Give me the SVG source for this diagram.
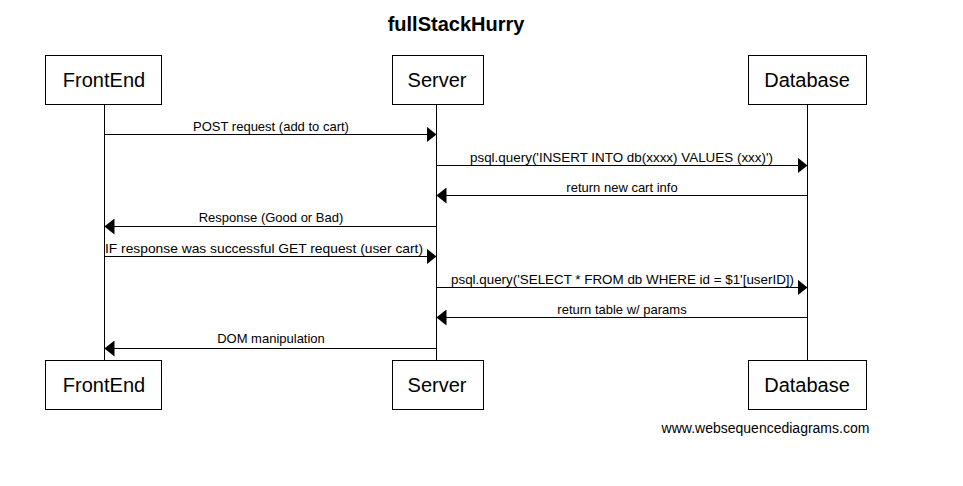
<svg xmlns="http://www.w3.org/2000/svg" width="963" height="486" viewBox="0 0 963 486">
<style>
.box{fill:#fff;stroke:#000;stroke-width:1}
.bt{font-family:"Liberation Sans",Arial,sans-serif;font-size:20px;text-anchor:middle;fill:#000}
.life{stroke:#000;stroke-width:1}
.msg{stroke:#000;stroke-width:1;fill:none}
.ml{font-family:"Liberation Sans",Arial,sans-serif;font-size:13px;text-anchor:middle;fill:#000}
</style>
<defs>
<marker id="ah" viewBox="0 0 10 16" refX="10" refY="8" markerWidth="10" markerHeight="16" markerUnits="userSpaceOnUse" orient="auto">
<path d="M0,0 L10,8 L0,16 Z" fill="#000"/>
</marker>
</defs>
<rect width="963" height="486" fill="#fff"/>
<text x="456" y="31" font-family="'Liberation Sans',Arial,sans-serif" font-size="20" font-weight="bold" text-anchor="middle">fullStackHurry</text>
<g id="lifelines">
<line class="life" x1="104.5" y1="104" x2="104.5" y2="360"/>
<line class="life" x1="436.5" y1="104" x2="436.5" y2="360"/>
<line class="life" x1="807.5" y1="104" x2="807.5" y2="360"/>
</g>
<g id="FrontEnd">
<rect class="box" x="45.5" y="55.5" width="116" height="49"/>
<text class="bt" x="104" y="87">FrontEnd</text>
</g>
<g id="Server">
<rect class="box" x="392.5" y="55.5" width="91" height="49"/>
<text class="bt" x="437" y="87">Server</text>
</g>
<g id="Database">
<rect class="box" x="748.5" y="55.5" width="118" height="49"/>
<text class="bt" x="807" y="87">Database</text>
</g>
<g id="FrontEnd_bottom">
<rect class="box" x="45.5" y="360.5" width="116" height="49"/>
<text class="bt" x="104" y="392">FrontEnd</text>
</g>
<g id="Server_bottom">
<rect class="box" x="392.5" y="360.5" width="91" height="49"/>
<text class="bt" x="437" y="392">Server</text>
</g>
<g id="Database_bottom">
<rect class="box" x="748.5" y="360.5" width="118" height="49"/>
<text class="bt" x="807" y="392">Database</text>
</g>
<g id="connectors">
<line class="msg" x1="104.5" y1="134.5" x2="436.5" y2="134.5" marker-end="url(#ah)"/>
<text class="ml" x="271" y="131">POST request (add to cart)</text>
<line class="msg" x1="436.5" y1="165.5" x2="807.5" y2="165.5" marker-end="url(#ah)"/>
<text class="ml" x="621.5" y="162" textLength="303" lengthAdjust="spacingAndGlyphs">psql.query('INSERT INTO db(xxxx) VALUES (xxx)')</text>
<line class="msg" x1="807.5" y1="195.5" x2="436.5" y2="195.5" marker-end="url(#ah)"/>
<text class="ml" x="622" y="192">return new cart info</text>
<line class="msg" x1="436.5" y1="226.5" x2="104.5" y2="226.5" marker-end="url(#ah)"/>
<text class="ml" x="271" y="222">Response (Good or Bad)</text>
<line class="msg" x1="104.5" y1="256.5" x2="436.5" y2="256.5" marker-end="url(#ah)"/>
<text class="ml" x="264" y="253" textLength="318" lengthAdjust="spacingAndGlyphs">IF response was successful GET request (user cart)</text>
<line class="msg" x1="436.5" y1="287.5" x2="807.5" y2="287.5" marker-end="url(#ah)"/>
<text class="ml" x="622.5" y="284" textLength="343" lengthAdjust="spacingAndGlyphs">psql.query('SELECT * FROM db WHERE id = $1'[userID])</text>
<line class="msg" x1="807.5" y1="317.5" x2="436.5" y2="317.5" marker-end="url(#ah)"/>
<text class="ml" x="622" y="314">return table w/ params</text>
<line class="msg" x1="436.5" y1="348.5" x2="104.5" y2="348.5" marker-end="url(#ah)"/>
<text class="ml" x="271" y="343">DOM manipulation</text>
</g>
<text x="765.5" y="433" font-family="'Liberation Sans',Arial,sans-serif" font-size="14" text-anchor="middle">www.websequencediagrams.com</text>
</svg>
